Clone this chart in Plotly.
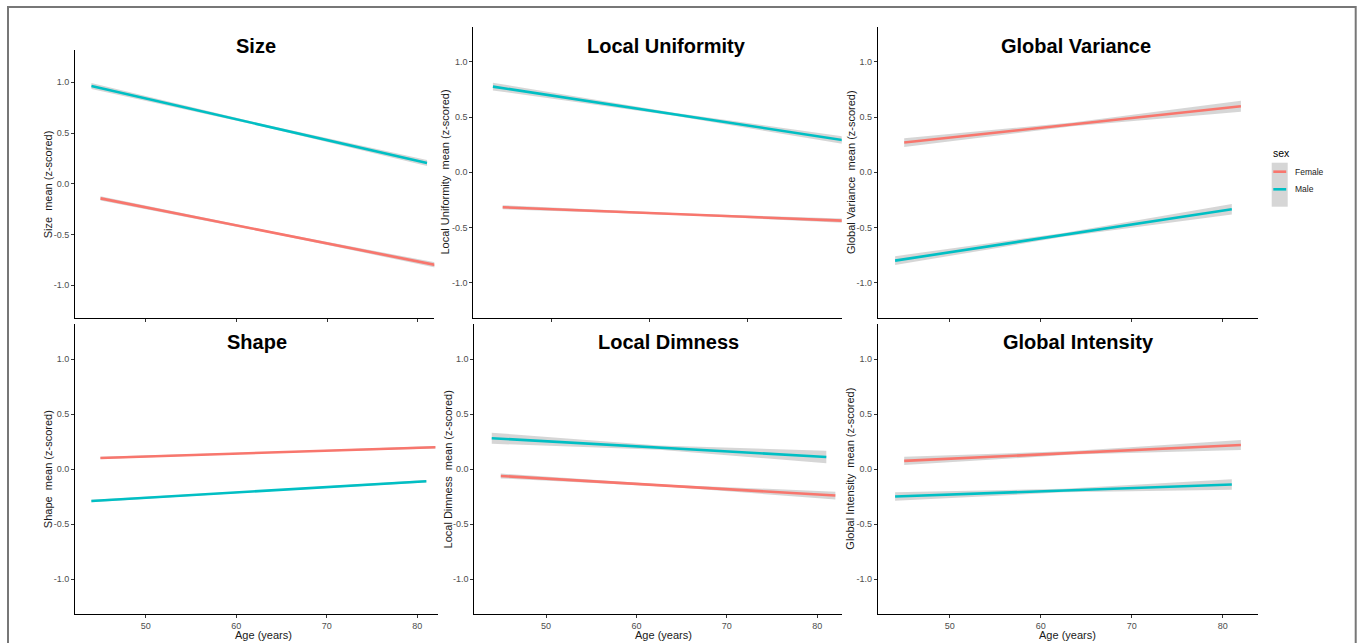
import plotly.graph_objects as go

W, H = 1360, 643

# ---------------- data ----------------
PANEL_TITLES = ["Size", "Local Uniformity", "Global Variance",
                "Shape", "Local Dimness", "Global Intensity"]
Y_TITLES = ["Size  mean (z-scored)", "Local Uniformity  mean (z-scored)",
            "Global Variance  mean (z-scored)", "Shape  mean (z-scored)",
            "Local Dimness  mean (z-scored)", "Global Intensity  mean (z-scored)"]
SEX = ["Female", "Male"]

AGE_MALE = [44, 62.5, 81]
AGE_FEMALE = [45, 63.5, 82]

# fitted means (start, middle, end)
MALE_FIT = [
    [0.964, 0.584, 0.204],
    [0.776, 0.525, 0.274],
    [-0.800, -0.568, -0.335],
    [-0.288, -0.199, -0.109],
    [0.282, 0.197, 0.112],
    [-0.248, -0.194, -0.139],
]
FEMALE_FIT = [
    [-0.145, -0.474, -0.803],
    [-0.317, -0.382, -0.446],
    [0.269, 0.434, 0.598],
    [0.103, 0.152, 0.200],
    [-0.061, -0.150, -0.239],
    [0.076, 0.149, 0.221],
]
# confidence-band half widths (start, middle, end)
MALE_CI = [
    [0.030, 0.012, 0.030],
    [0.035, 0.014, 0.035],
    [0.040, 0.017, 0.047],
    [0.012, 0.005, 0.012],
    [0.050, 0.020, 0.057],
    [0.038, 0.016, 0.048],
]
FEMALE_CI = [
    [0.020, 0.010, 0.025],
    [0.018, 0.008, 0.020],
    [0.040, 0.017, 0.050],
    [0.010, 0.005, 0.012],
    [0.022, 0.010, 0.035],
    [0.038, 0.016, 0.045],
]
Y_TICKS = [-1.0, -0.5, 0.0, 0.5, 1.0]
Y_TICKTEXT = ["-1.0", "-0.5", "0.0", "0.5", "1.0"]
X_TICKS = [50, 60, 70, 80]

# ---------------- layout (pixel boxes) ----------------
# (left, right, top, bottom) in pixels, x-range
BOXES = [
    (75.0, 434.3, 50.0, 318.0, [42.19, 81.8], [-1.325, 1.319]),
    (473.3, 841.7, 27.3, 317.7, [42.0, 79.6], [-1.317, 1.313]),
    (877.8, 1258.2, 27.3, 317.7, [42.1, 83.9], [-1.317, 1.313]),
    (75.0, 438.0, 324.0, 614.3, [42.19, 82.29], [-1.318, 1.32]),
    (474.3, 841.7, 324.0, 614.3, [42.07, 82.7], [-1.318, 1.32]),
    (877.8, 1258.2, 324.0, 614.3, [42.1, 83.9], [-1.318, 1.32]),
]
TITLE_POS = [(255.7, 45.7), (666.7, 45.7), (1076.3, 45.7),
             (256.7, 342.3), (668.3, 342.3), (1078.0, 342.3)]
YTITLE_X = [48.3, 444.0, 850.5, 48.0, 448.3, 850.5]
XTITLE_X = [263.3, 663.3, 1067.7]

COL = {"Female": "#F8766D", "Male": "#00BFC4"}
BAND = "rgba(153,153,153,0.4)"
FONT = "Liberation Sans, Arial, sans-serif"


def px(x):
    return x / W


def py(y):
    return 1 - y / H


fig = go.Figure()
layout = dict(width=W, height=H, margin=dict(l=0, r=0, t=0, b=0),
              paper_bgcolor="white", plot_bgcolor="white", showlegend=False,
              font=dict(family=FONT))
annotations = []
shapes = []

for i in range(6):
    n = i + 1
    xa = "x" if n == 1 else f"x{n}"
    ya = "y" if n == 1 else f"y{n}"
    l, r, t, b, xr, yr = BOXES[i]
    bottom_row = i >= 3
    layout["xaxis" if n == 1 else f"xaxis{n}"] = dict(
        domain=[px(l), px(r)], range=xr, anchor=ya,
        showline=True, linecolor="black", linewidth=1,
        ticks="outside", ticklen=3, tickcolor="#333333", tickwidth=1,
        tickvals=X_TICKS, showticklabels=bottom_row,
        tickfont=dict(size=9, color="#4D4D4D"),
        showgrid=False, zeroline=False)
    layout["yaxis" if n == 1 else f"yaxis{n}"] = dict(
        domain=[py(b), py(t)], range=yr, anchor=xa,
        showline=True, linecolor="black", linewidth=1,
        ticks="outside", ticklen=3, tickcolor="#333333", tickwidth=1,
        tickvals=Y_TICKS, ticktext=Y_TICKTEXT,
        tickfont=dict(size=9, color="#4D4D4D"),
        showgrid=False, zeroline=False)

    for sex in SEX:
        ages = AGE_FEMALE if sex == "Female" else AGE_MALE
        fit = FEMALE_FIT[i] if sex == "Female" else MALE_FIT[i]
        ci = FEMALE_CI[i] if sex == "Female" else MALE_CI[i]
        upper = [f + c for f, c in zip(fit, ci)]
        lower = [f - c for f, c in zip(fit, ci)]
        fig.add_trace(go.Scatter(
            x=ages + ages[::-1], y=upper + lower[::-1], xaxis=xa, yaxis=ya,
            fill="toself", fillcolor=BAND, line=dict(width=0),
            mode="lines", hoverinfo="skip"))
    for sex in SEX:
        ages = AGE_FEMALE if sex == "Female" else AGE_MALE
        fit = FEMALE_FIT[i] if sex == "Female" else MALE_FIT[i]
        fig.add_trace(go.Scatter(
            x=ages, y=fit, xaxis=xa, yaxis=ya, mode="lines", name=sex,
            line=dict(color=COL[sex], width=2.6)))

    tx, ty = TITLE_POS[i]
    annotations.append(dict(
        text=f"<b>{PANEL_TITLES[i]}</b>", x=px(tx), y=py(ty),
        xref="paper", yref="paper", xanchor="center", yanchor="middle",
        showarrow=False, font=dict(size=20, color="black", family=FONT)))
    annotations.append(dict(
        text=Y_TITLES[i].replace("  ", "\u00a0 "), x=px(YTITLE_X[i]),
        y=py((t + b) / 2), xref="paper", yref="paper",
        xanchor="center", yanchor="middle", textangle=-90,
        showarrow=False, font=dict(size=11, color="#1a1a1a", family=FONT)))

for k in range(3):
    annotations.append(dict(
        text="Age (years)", x=px(XTITLE_X[k]), y=py(635.0),
        xref="paper", yref="paper", xanchor="center", yanchor="middle",
        showarrow=False, font=dict(size=11, color="#1a1a1a", family=FONT)))

# legend (drawn manually)
annotations.append(dict(text="sex", x=px(1271.0), y=py(153.0), xref="paper",
                        yref="paper", xanchor="left", yanchor="middle",
                        showarrow=False, font=dict(size=10.5, color="black")))
shapes.append(dict(type="rect", xref="paper", yref="paper",
                   x0=px(1271.7), x1=px(1287.7), y0=py(206.7), y1=py(162.7),
                   fillcolor="#D6D6D6", line=dict(width=0)))
for sex, yy in zip(SEX, [171.7, 189.3]):
    shapes.append(dict(type="line", xref="paper", yref="paper",
                       x0=px(1273.3), x1=px(1286.2), y0=py(yy), y1=py(yy),
                       line=dict(color=COL[sex], width=2.6)))
    annotations.append(dict(text=sex, x=px(1292.5), y=py(yy), xref="paper",
                            yref="paper", xanchor="left", yanchor="middle",
                            showarrow=False,
                            font=dict(size=8.5, color="#1a1a1a")))

# outer frame
shapes.append(dict(type="rect", xref="paper", yref="paper",
                   x0=px(8.0), x1=px(1355.7), y0=-0.05, y1=py(7.0),
                   line=dict(color="#777777", width=2), fillcolor="rgba(0,0,0,0)"))

layout["annotations"] = annotations
layout["shapes"] = shapes
fig.update_layout(**layout)
fig.write_html("out.html")
